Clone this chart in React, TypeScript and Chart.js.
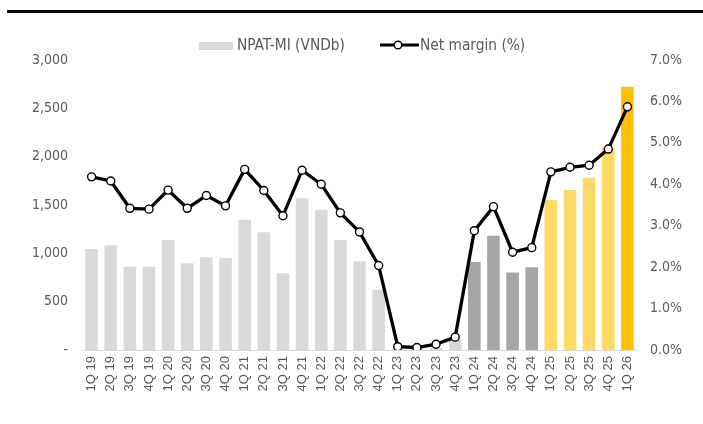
import React, { useEffect, useRef } from "react";
import { Chart, registerables } from "chart.js";

Chart.register(...registerables);

const categories = [
  "1Q 19", "2Q 19", "3Q 19", "4Q 19",
  "1Q 20", "2Q 20", "3Q 20", "4Q 20",
  "1Q 21", "2Q 21", "3Q 21", "4Q 21",
  "1Q 22", "2Q 22", "3Q 22", "4Q 22",
  "1Q 23", "2Q 23", "3Q 23", "4Q 23",
  "1Q 24", "2Q 24", "3Q 24", "4Q 24",
  "1Q 25", "2Q 25", "3Q 25", "4Q 25",
  "1Q 26",
];

const npatMi = [
  1045, 1083, 862, 862,
  1138, 897, 959, 952,
  1348, 1217, 793, 1569,
  1452, 1138, 917, 624,
  15, 10, 20, 110,
  910, 1183, 803, 855,
  1552, 1655, 1783, 2086,
  2724,
];

const netMargin = [
  4.18, 4.08, 3.42, 3.40,
  3.86, 3.42, 3.73, 3.48,
  4.36, 3.85, 3.24, 4.34,
  4.00, 3.31, 2.85, 2.04,
  0.08, 0.06, 0.14, 0.31,
  2.88, 3.46, 2.36, 2.47,
  4.30, 4.41, 4.46, 4.85,
  5.87,
];

const barColors = [
  ...Array(20).fill("#d9d9d9"),
  ...Array(4).fill("#a6a6a6"),
  ...Array(4).fill("#ffd966"),
  "#ffc000",
];

const leftTicks = [0, 500, 1000, 1500, 2000, 2500, 3000];
const rightTicks = [0, 1, 2, 3, 4, 5, 6, 7];

const legendLabels = ["NPAT-MI (VNDb)", "Net margin (%)"];

const FONT = "'DejaVu Sans Condensed', 'DejaVu Sans', sans-serif";
const TEXT = "#595959";

const legendPlugin = {
  id: "customLegend",
  afterDraw(chart: any) {
    const ctx = chart.ctx;
    ctx.save();
    const y = 46;
    ctx.fillStyle = "#d9d9d9";
    ctx.fillRect(199, 42, 34, 8);
    ctx.font = `15.3px ${FONT}`;
    ctx.fillStyle = TEXT;
    ctx.textBaseline = "middle";
    ctx.textAlign = "left";
    ctx.fillText(legendLabels[0], 237, y);
    ctx.strokeStyle = "#000";
    ctx.lineWidth = 3;
    ctx.beginPath();
    ctx.moveTo(380, y - 1);
    ctx.lineTo(419, y - 1);
    ctx.stroke();
    ctx.beginPath();
    ctx.arc(398, y - 1, 3.8, 0, Math.PI * 2);
    ctx.fillStyle = "#fff";
    ctx.fill();
    ctx.lineWidth = 1.4;
    ctx.stroke();
    ctx.fillStyle = TEXT;
    ctx.fillText(legendLabels[1], 420, y);
    ctx.restore();
  },
};

export default function App() {
  const ref = useRef<HTMLCanvasElement | null>(null);

  useEffect(() => {
    if (!ref.current) return;
    const chart = new Chart(ref.current, {
      type: "bar",
      data: {
        labels: categories,
        datasets: [
          {
            type: "line",
            label: legendLabels[1],
            data: netMargin,
            yAxisID: "y1",
            borderColor: "#000",
            borderWidth: 3.3,
            pointRadius: 4,
            pointBackgroundColor: "#fff",
            pointBorderColor: "#000",
            pointBorderWidth: 1.4,
            tension: 0,
            order: 0,
          } as any,
          {
            type: "bar",
            label: legendLabels[0],
            data: npatMi,
            yAxisID: "y",
            backgroundColor: barColors,
            barPercentage: 0.66,
            categoryPercentage: 1,
            order: 1,
          },
        ],
      },
      options: {
        animation: false,
        responsive: false,
        maintainAspectRatio: false,
        layout: { padding: { top: 60, left: 0, right: 0, bottom: 0 } },
        plugins: {
          legend: { display: false },
          tooltip: { enabled: false },
        },
        scales: {
          x: {
            grid: { display: false, drawTicks: false },
            border: { display: true, color: "#d9d9d9", width: 1 },
            ticks: {
              autoSkip: false,
              maxRotation: 90,
              minRotation: 90,
              padding: 6,
              color: TEXT,
              font: { family: "'Liberation Sans', Arial, sans-serif", size: 13 },
            },
            afterFit(scale: any) {
              scale.height = 74;
            },
          },
          y: {
            position: "left",
            min: 0,
            max: 3000,
            afterBuildTicks(scale: any) {
              scale.ticks = leftTicks.map((v) => ({ value: v }));
            },
            grid: { display: false, drawTicks: false },
            border: { display: false },
            ticks: {
              padding: 14,
              color: TEXT,
              font: { family: FONT, size: 14 },
              callback: (v: any) => (Number(v) === 0 ? "-" : Number(v).toLocaleString("en-US")),
            },
            afterFit(scale: any) {
              scale.width = 82;
            },
          },
          y1: {
            position: "right",
            min: 0,
            max: 7,
            afterBuildTicks(scale: any) {
              scale.ticks = rightTicks.map((v) => ({ value: v }));
            },
            grid: { display: false, drawTicks: false },
            border: { display: false },
            ticks: {
              padding: 13,
              color: TEXT,
              font: { family: FONT, size: 14 },
              callback: (v: any) => Number(v).toFixed(1) + "%",
            },
            afterFit(scale: any) {
              scale.width = 66;
            },
          },
        },
      },
      plugins: [legendPlugin],
    });
    return () => chart.destroy();
  }, []);

  return (
    <div style={{ position: "fixed", left: 0, top: 0, width: 703, height: 424, background: "#fff" }}>
      <div style={{ position: "absolute", left: 7, top: 10, width: 696, height: 3, background: "#000" }} />
      <canvas ref={ref} width={703} height={424} style={{ position: "absolute", left: 0, top: 0, width: 703, height: 424 }} />
    </div>
  );
}
